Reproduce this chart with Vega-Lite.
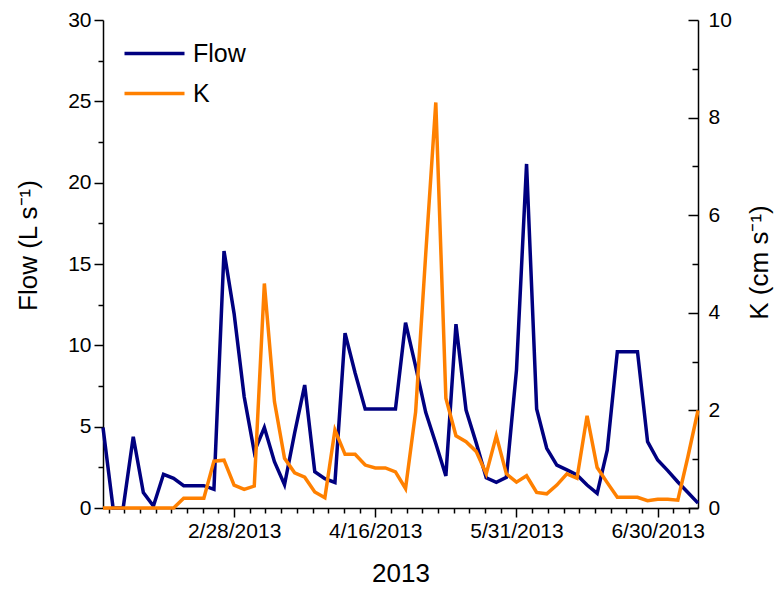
{
  "$schema": "https://vega.github.io/schema/vega-lite/v6.json",
  "width": 595,
  "height": 488,
  "autosize": {"type": "none"},
  "padding": {"left": 103, "top": 20, "right": 76, "bottom": 84},
  "background": "white",
  "config": {
    "view": {"stroke": null},
    "font": "Liberation Sans",
    "axis": {
      "grid": false,
      "domainColor": "black",
      "domainWidth": 1.5,
      "tickColor": "black",
      "tickWidth": 1.5,
      "labelColor": "black",
      "titleColor": "black",
      "labelFont": "Liberation Sans",
      "titleFont": "Liberation Sans",
      "labelFontSize": 21,
      "titleFontSize": 26,
      "titleFontWeight": "normal",
      "labelOverlap": false,
      "labelFlush": false,
      "labelBound": false
    }
  },
  "data": {
    "values": [
      {"i": 0, "flow": 4.95, "k": 0},
      {"i": 1, "flow": 0, "k": 0},
      {"i": 2, "flow": 0, "k": 0},
      {"i": 3, "flow": 4.38, "k": 0},
      {"i": 4, "flow": 0.95, "k": 0},
      {"i": 5, "flow": 0.12, "k": 0},
      {"i": 6, "flow": 2.07, "k": 0},
      {"i": 7, "flow": 1.82, "k": 0},
      {"i": 8, "flow": 1.37, "k": 0.2},
      {"i": 9, "flow": 1.37, "k": 0.2},
      {"i": 10, "flow": 1.37, "k": 0.2},
      {"i": 11, "flow": 1.15, "k": 0.96},
      {"i": 12, "flow": 15.8, "k": 0.98},
      {"i": 13, "flow": 11.95, "k": 0.47},
      {"i": 14, "flow": 6.84, "k": 0.38},
      {"i": 15, "flow": 3.45, "k": 0.45},
      {"i": 16, "flow": 4.95, "k": 4.6},
      {"i": 17, "flow": 2.85, "k": 2.18},
      {"i": 18, "flow": 1.43, "k": 1.02},
      {"i": 19, "flow": 4.6, "k": 0.72},
      {"i": 20, "flow": 7.56, "k": 0.63},
      {"i": 21, "flow": 2.23, "k": 0.33},
      {"i": 22, "flow": 1.8, "k": 0.21},
      {"i": 23, "flow": 1.57, "k": 1.6},
      {"i": 24, "flow": 10.75, "k": 1.1},
      {"i": 25, "flow": 8.3, "k": 1.1},
      {"i": 26, "flow": 6.08, "k": 0.88},
      {"i": 27, "flow": 6.08, "k": 0.82},
      {"i": 28, "flow": 6.08, "k": 0.82},
      {"i": 29, "flow": 6.08, "k": 0.74},
      {"i": 30, "flow": 11.39, "k": 0.4},
      {"i": 31, "flow": 8.7, "k": 1.97},
      {"i": 32, "flow": 5.88, "k": 5.2},
      {"i": 33, "flow": 3.97, "k": 8.31},
      {"i": 34, "flow": 1.97, "k": 2.25},
      {"i": 35, "flow": 11.3, "k": 1.48},
      {"i": 36, "flow": 6.02, "k": 1.36},
      {"i": 37, "flow": 4.02, "k": 1.16},
      {"i": 38, "flow": 1.86, "k": 0.7},
      {"i": 39, "flow": 1.58, "k": 1.48},
      {"i": 40, "flow": 1.89, "k": 0.7},
      {"i": 41, "flow": 8.48, "k": 0.53},
      {"i": 42, "flow": 21.15, "k": 0.66},
      {"i": 43, "flow": 6.09, "k": 0.32},
      {"i": 44, "flow": 3.67, "k": 0.29},
      {"i": 45, "flow": 2.64, "k": 0.47},
      {"i": 46, "flow": 2.34, "k": 0.7},
      {"i": 47, "flow": 2.03, "k": 0.61},
      {"i": 48, "flow": 1.41, "k": 1.89},
      {"i": 49, "flow": 0.9, "k": 0.83},
      {"i": 50, "flow": 3.56, "k": 0.52},
      {"i": 51, "flow": 9.61, "k": 0.22},
      {"i": 52, "flow": 9.61, "k": 0.22},
      {"i": 53, "flow": 9.61, "k": 0.22},
      {"i": 54, "flow": 4.08, "k": 0.15},
      {"i": 55, "flow": 2.95, "k": 0.18},
      {"i": 56, "flow": 2.3, "k": 0.18},
      {"i": 57, "flow": 1.6, "k": 0.16},
      {"i": 58, "flow": 0.95, "k": 1.05},
      {"i": 59, "flow": 0.3, "k": 2.0}
    ]
  },
  "encoding": {
    "x": {
      "field": "i",
      "type": "quantitative",
      "scale": {"domain": [0, 59], "nice": false, "zero": false},
      "axis": {
        "title": "2013",
        "values": [0.5556, 2.1111, 3.6667, 5.2222, 6.7778, 8.3333, 9.8889, 11.4444, 13, 14.5556, 16.1111, 17.6667, 19.2222, 20.7778, 22.3333, 23.8889, 25.4444, 27, 28.5556, 30.1111, 31.6667, 33.2222, 34.7778, 36.3333, 37.8889, 39.4444, 41, 42.5556, 44.1111, 45.6667, 47.2222, 48.7778, 50.3333, 51.8889, 53.4444, 55, 56.5556, 58.1111],
        "labelExpr": "datum.value === 13 ? '2/28/2013' : datum.value === 27 ? '4/16/2013' : datum.value === 41 ? '5/31/2013' : datum.value === 55 ? '6/30/2013' : ''",
        "tickSize": {"condition": {"test": "datum.value === 13 || datum.value === 27 || datum.value === 41 || datum.value === 55", "value": 9}, "value": 5},
        "labelPadding": 3,
        "titleX": 297.5,
        "titleY": 73,
        "titleBaseline": "alphabetic",
        "titleAlign": "center"
      }
    }
  },
  "layer": [
    {
      "mark": {"type": "line", "strokeWidth": 3.5, "clip": false},
      "encoding": {
        "y": {
          "field": "flow",
          "type": "quantitative",
          "scale": {"domain": [0, 30], "nice": false, "zero": true},
          "axis": {
            "orient": "left",
            "title": "Flow (L s⁻¹)",
            "values": [0, 2.5, 5, 7.5, 10, 12.5, 15, 17.5, 20, 22.5, 25, 27.5, 30],
            "labelExpr": "datum.value % 5 === 0 ? datum.label : ''",
            "tickSize": {"condition": {"test": "datum.value % 5 === 0", "value": 9}, "value": 5},
            "labelPadding": 3,
            "titleAngle": 270,
            "titleBaseline": "alphabetic",
            "titleAlign": "center",
            "titleX": -67,
            "titleY": 225
          }
        },
        "color": {
          "datum": "Flow",
          "type": "nominal",
          "scale": {"domain": ["Flow", "K"], "range": ["#000080", "#FF8000"]},
          "legend": {
            "orient": "none",
            "legendX": 39,
            "legendY": 21,
            "title": null,
            "symbolType": "M-3,0H3",
            "symbolSize": 400,
            "symbolStrokeWidth": 3.5,
            "labelFontSize": 25,
            "labelFont": "Liberation Sans",
            "labelColor": "black",
            "labelOffset": 26,
            "rowPadding": 14,
            "padding": 0
          }
        }
      }
    },
    {
      "mark": {"type": "line", "strokeWidth": 3.5, "clip": false},
      "encoding": {
        "y": {
          "field": "k",
          "type": "quantitative",
          "scale": {"domain": [0, 10], "nice": false, "zero": true},
          "axis": {
            "orient": "right",
            "title": "K (cm s⁻¹)",
            "values": [0, 1, 2, 3, 4, 5, 6, 7, 8, 9, 10],
            "labelExpr": "datum.value % 2 === 0 ? datum.label : ''",
            "tickSize": {"condition": {"test": "datum.value % 2 === 0", "value": -10}, "value": -6},
            "labelPadding": 20,
            "titleAngle": 270,
            "titleBaseline": "alphabetic",
            "titleAlign": "center",
            "titleX": 69,
            "titleY": 242
          }
        },
        "color": {"datum": "K", "type": "nominal"}
      }
    }
  ],
  "resolve": {"scale": {"y": "independent"}}
}
